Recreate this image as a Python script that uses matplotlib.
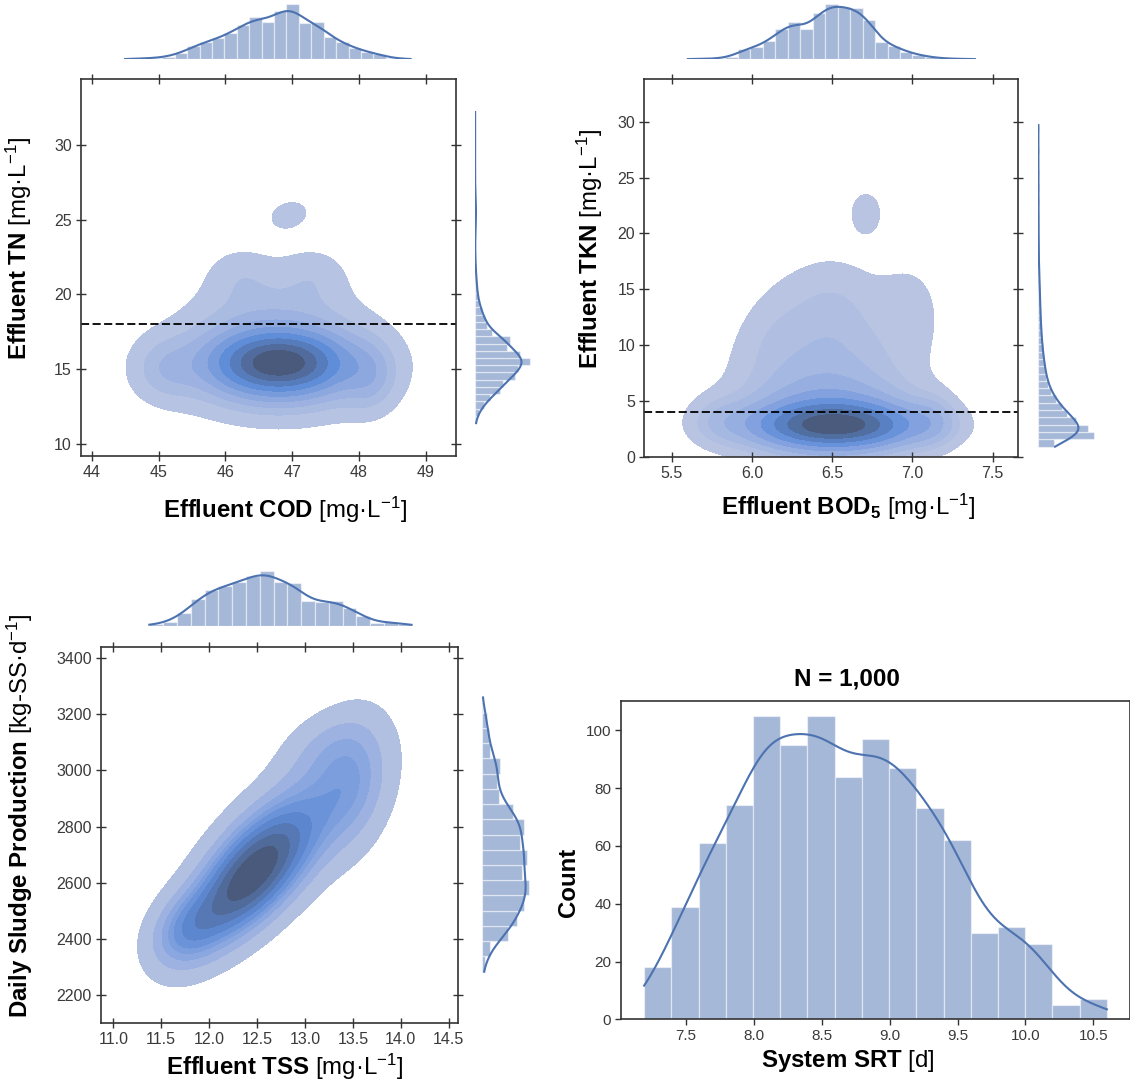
import numpy as np
import matplotlib
matplotlib.use("Agg")
import matplotlib.pyplot as plt
from matplotlib import colors as mcolors

# ------------------------------------------------------------------ data
# Panel A : Effluent COD (x) vs Effluent TN (y)
cod_bin_start, cod_bin_width = 44.50, 0.1857
cod_counts = [1, 2, 3, 6, 14, 29, 40, 47, 60, 77, 96, 85, 110, 125, 81, 84, 51, 38, 25, 17, 11, 2, 1]
tn_bin_start, tn_bin_width = 11.38, 0.4842
tn_counts = [2, 9, 22, 38, 64, 72, 102, 110, 140, 115, 81, 89, 43, 30, 25, 17, 11, 7, 6, 4,
             3, 2, 1, 1, 0, 1, 1, 2, 3, 3, 2, 1, 0, 1, 0, 0, 1, 0, 0, 1, 0, 0, 1]
# bivariate density: (x, y, sx, sy, rho, weight)
cod_tn_components = [
    (46.80, 15.4, 0.60, 1.25, 0.0, 0.35),
    (46.80, 15.2, 0.90, 2.00, 0.0, 0.40),
    (46.70, 18.3, 0.80, 2.00, 0.0, 0.10),
    (45.10, 15.0, 0.33, 1.40, 0.0, 0.035),
    (48.15, 14.5, 0.26, 1.50, 0.0, 0.035),
    (46.25, 21.2, 0.35, 1.30, 0.0, 0.02),
    (47.30, 21.2, 0.35, 1.30, 0.0, 0.02),
    (46.95, 25.3, 0.18, 0.60, 0.2, 0.007),
]
tn_limit = 18
cod_ticks = [44, 45, 46, 47, 48, 49]
tn_ticks = [10, 15, 20, 25, 30]

# Panel B : Effluent BOD5 (x) vs Effluent TKN (y)
bod_bin_start, bod_bin_width = 5.60, 0.0778
bod_counts = [1, 1, 2, 6, 23, 29, 43, 69, 87, 70, 106, 128, 120, 118, 92, 41, 31, 18, 10, 5, 2, 1, 1]
tkn_bin_start, tkn_bin_width = 0.90, 0.6545
tkn_counts = [52, 180, 162, 122, 93, 75, 56, 41, 32, 26, 23, 20, 16, 14, 12, 10, 9, 8, 7, 6, 6, 5, 3, 3, 2,
              2, 2, 1, 1, 1, 1, 1, 0, 1, 0, 1, 0, 1, 0, 0, 1, 0, 0, 1]
bod_tkn_components = [
    (6.52, 2.8, 0.32, 1.2, 0.0, 0.35),
    (6.50, 3.2, 0.33, 2.2, 0.0, 0.30),
    (6.45, 7.0, 0.32, 3.5, 0.0, 0.20),
    (6.50, 13.5, 0.20, 3.0, 0.0, 0.055),
    (6.98, 13.0, 0.15, 3.3, 0.0, 0.03),
    (6.12, 11.5, 0.15, 3.0, 0.3, 0.02),
    (5.80, 3.2, 0.13, 1.5, 0.0, 0.02),
    (7.12, 3.2, 0.10, 1.5, 0.0, 0.02),
    (6.71, 21.8, 0.065, 1.3, 0.0, 0.008),
]
tkn_limit = 4
bod_ticks = [5.5, 6.0, 6.5, 7.0, 7.5]
tkn_ticks = [0, 5, 10, 15, 20, 25, 30]

# Panel C : Effluent TSS (x) vs Daily sludge production (y)
tss_bin_start, tss_bin_width = 11.376, 0.1440
tss_counts = [4, 9, 28, 57, 77, 85, 94, 107, 117, 94, 92, 54, 51, 54, 38, 21, 6, 9, 4]
sludge_bin_start, sludge_bin_width = 2283, 54.3
sludge_counts = [8, 19, 60, 81, 98, 110, 92, 105, 89, 98, 73, 40, 35, 42, 19, 17, 12, 4]
tss_sludge_components = [
    (12.40, 2610, 0.40, 150, 0.65, 0.45),
    (12.80, 2760, 0.55, 190, 0.65, 0.33),
    (13.50, 2960, 0.25, 150, 0.20, 0.10),
    (11.75, 2430, 0.25, 90, 0.30, 0.08),
    (13.20, 3080, 0.30, 90, 0.30, 0.04),
]
tss_ticks = [11.0, 11.5, 12.0, 12.5, 13.0, 13.5, 14.0, 14.5]
sludge_ticks = [2200, 2400, 2600, 2800, 3000, 3200, 3400]

# Panel D : System SRT histogram
srt_bin_start, srt_bin_width = 7.19, 0.2006
srt_counts = [18, 39, 61, 74, 105, 95, 105, 84, 97, 87, 73, 62, 30, 32, 26, 5, 7]
srt_ticks = [7.5, 8.0, 8.5, 9.0, 9.5, 10.0, 10.5]
count_ticks = [0, 20, 40, 60, 80, 100]
n_title = "N = 1,000"

# ------------------------------------------------------------------ style
plt.rcParams.update({
    "font.family": ["Liberation Sans", "DejaVu Sans"],
    "mathtext.fontset": "custom",
    "mathtext.rm": "Liberation Sans",
    "mathtext.it": "Liberation Sans:italic",
    "mathtext.bf": "Liberation Sans:bold",
})
BLUE = "#4c72b0"
SPINE = "#333333"
TICKC = "#3a3a3a"
LABEL_FS = 17.3
TICK_FS = 11.5

W, H = 1130, 1083
fig = plt.figure(figsize=(W / 100, H / 100), dpi=100)


def rect(x0, y0, x1, y1):
    return [x0 / W, 1 - y1 / H, (x1 - x0) / W, (y1 - y0) / H]


def seaborn_cmap(color):
    try:
        from seaborn.external import husl
        r, g, b = mcolors.to_rgb(color)
        h, s, _ = husl.rgb_to_husl(r, g, b)
        xx = np.linspace(-1, 1, int(1.15 * 256))[:256]
        ramp = np.zeros((256, 3))
        ramp[:, 0] = h
        ramp[:, 1] = s * np.cos(xx)
        ramp[:, 2] = np.linspace(35, 80, 256)
        cols = np.clip([husl.husl_to_rgb(*hsl) for hsl in ramp], 0, 1)
        return mcolors.ListedColormap(cols[::-1])
    except Exception:
        return mcolors.LinearSegmentedColormap.from_list(
            "b", ["#b4c2e6", "#5b86d6", "#4a5a86"])


CMAP = seaborn_cmap(BLUE)


def mixture(X, Y, comps):
    Z = np.zeros_like(X)
    for mx, my, sx, sy, rho, w in comps:
        dx = (X - mx) / sx
        dy = (Y - my) / sy
        q = (dx ** 2 - 2 * rho * dx * dy + dy ** 2) / (1 - rho ** 2)
        Z += w * np.exp(-q / 2) / (2 * np.pi * sx * sy * np.sqrt(1 - rho ** 2))
    return Z


def iso_levels(dens, thresh=0.05, n=10):
    q = np.linspace(thresh, 1, n)
    vals = np.sort(dens.ravel())[::-1]
    cum = np.cumsum(vals) / vals.sum()
    idx = np.searchsorted(cum, 1 - q)
    return np.take(vals, idx, mode="clip")


def hist_kde(start, width, counts, npts=300):
    counts = np.asarray(counts, float)
    edges = start + width * np.arange(len(counts) + 1)
    centers = 0.5 * (edges[:-1] + edges[1:])
    n = counts.sum()
    mean = (centers * counts).sum() / n
    var = ((centers - mean) ** 2 * counts).sum() / (n - 1)
    bw = np.sqrt(var) * n ** (-1 / 5)
    grid = np.linspace(edges[0], edges[-1], npts)
    dens = (counts[None, :] * np.exp(-0.5 * ((grid[:, None] - centers[None, :]) / bw) ** 2)).sum(1)
    dens /= n * bw * np.sqrt(2 * np.pi)
    return edges, centers, grid, dens * n * width


def style_joint(ax, xticks, yticks, xfmt, yfmt):
    for s in ax.spines.values():
        s.set_color(SPINE)
        s.set_linewidth(1.2)
    ax.set_xticks(xticks)
    ax.set_yticks(yticks)
    ax.set_xticklabels([xfmt.format(v) for v in xticks])
    ax.set_yticklabels([yfmt.format(v) for v in yticks])
    ax.tick_params(which="both", direction="inout", length=7, width=1, color=SPINE,
                   top=True, right=True, labeltop=False, labelright=False,
                   labelsize=TICK_FS, labelcolor=TICKC, pad=3)


def joint_panel(rj, rt, rr, xlim, ylim, grid_x, grid_y, comps, xh, yh,
                xticks, yticks, xfmt, yfmt, xlabel, ylabel, xl_pos, yl_pos, hline=None):
    axj = fig.add_axes(rect(*rj))
    X, Y = np.meshgrid(np.linspace(*grid_x, 300), np.linspace(*grid_y, 300))
    Z = mixture(X, Y, comps)
    levels = iso_levels(Z)
    axj.contourf(X, Y, Z, levels=levels, cmap=CMAP)
    if hline is not None:
        axj.axhline(hline, color="black", lw=1.3, ls=(0, (4.5, 1.9)))
    axj.set_xlim(*xlim)
    axj.set_ylim(*ylim)
    style_joint(axj, xticks, yticks, xfmt, yfmt)
    axj.set_xlabel(xlabel, fontsize=LABEL_FS, color="black")
    axj.set_ylabel(ylabel, fontsize=LABEL_FS, color="black")
    axj.xaxis.label.set_va("center")
    axj.yaxis.label.set_va("center")
    axj.xaxis.set_label_coords(*xl_pos)
    axj.yaxis.set_label_coords(*yl_pos)

    # top marginal
    axt = fig.add_axes(rect(*rt))
    edges, centers, g, k = hist_kde(*xh)
    axt.bar(centers, xh[2], width=xh[1], color=BLUE, alpha=0.5, edgecolor="white", linewidth=0.9)
    axt.plot(g, k, color=BLUE, lw=1.5)
    axt.set_xlim(*xlim)
    axt.set_ylim(0, max(xh[2]) * 1.05)
    axt.set_axis_off()

    # right marginal
    axr = fig.add_axes(rect(*rr))
    edges, centers, g, k = hist_kde(*yh)
    axr.barh(centers, yh[2], height=yh[1], color=BLUE, alpha=0.5, edgecolor="white", linewidth=0.9)
    axr.plot(k, g, color=BLUE, lw=1.5)
    axr.set_ylim(*ylim)
    axr.set_xlim(0, max(yh[2]) * 1.05)
    axr.set_axis_off()
    return axj


# Panel A
joint_panel((81, 79.3, 456, 456), (81, 1.2, 456, 59.3), (475, 79.3, 532.8, 456),
            (43.84, 49.45), (9.18, 34.39), (42.0, 51.0), (3, 38), cod_tn_components,
            (cod_bin_start, cod_bin_width, cod_counts), (tn_bin_start, tn_bin_width, tn_counts),
            cod_ticks, tn_ticks, "{:g}", "{:g}",
            r"$\mathbf{Effluent\ COD}$ [mg·L$^{-1}$]", r"$\mathbf{Effluent\ TN}$ [mg·L$^{-1}$]",
            (0.544, -0.143), (-0.1645, 0.552), hline=tn_limit)

# Panel B
joint_panel((644.3, 79.3, 1018.3, 456.7), (644.3, 1.2, 1018.3, 59.3), (1038.3, 79.3, 1096.8, 456.7),
            (5.329, 7.66), (0, 33.8), (4.6, 8.4), (-9, 40), bod_tkn_components,
            (bod_bin_start, bod_bin_width, bod_counts), (tkn_bin_start, tkn_bin_width, tkn_counts),
            bod_ticks, tkn_ticks, "{:.1f}", "{:g}",
            r"$\mathbf{Effluent\ BOD_5}$ [mg·L$^{-1}$]", r"$\mathbf{Effluent\ TKN}$ [mg·L$^{-1}$]",
            (0.546, -0.133), (-0.1465, 0.551), hline=tkn_limit)

# Panel C
joint_panel((101, 647.3, 458.3, 1023.3), (101, 568.3, 458.3, 626), (481.7, 647.3, 531.7, 1023.3),
            (10.872, 14.60), (2099, 3439), (10.0, 15.5), (1800, 3700), tss_sludge_components,
            (tss_bin_start, tss_bin_width, tss_counts), (sludge_bin_start, sludge_bin_width, sludge_counts),
            tss_ticks, sludge_ticks, "{:.1f}", "{:g}",
            r"$\mathbf{Effluent\ TSS}$ [mg·L$^{-1}$]", r"$\mathbf{Daily\ Sludge\ Production}$ [kg-SS·d$^{-1}$]",
            (0.515, -0.116), (-0.226, 0.553))

# Panel D
axh = fig.add_axes(rect(621, 700.7, 1130, 1019.3))
edges, centers, g, k = hist_kde(srt_bin_start, srt_bin_width, srt_counts)
axh.bar(centers, srt_counts, width=srt_bin_width, color=BLUE, alpha=0.5, edgecolor="white", linewidth=0.9)
axh.plot(g, k, color=BLUE, lw=1.5)
axh.set_xlim(edges[0] - 0.05 * (edges[-1] - edges[0]), edges[-1] + 0.05 * (edges[-1] - edges[0]))
axh.set_ylim(0, max(srt_counts) * 1.05)
axh.set_xticks(srt_ticks)
axh.set_xticklabels(["{:.1f}".format(v) for v in srt_ticks])
axh.set_yticks(count_ticks)
for s in axh.spines.values():
    s.set_color(SPINE)
    s.set_linewidth(1.2)
axh.tick_params(direction="out", length=4, width=1, color=SPINE, labelsize=11,
                labelcolor=TICKC, pad=3)
axh.set_xlabel(r"$\mathbf{System\ SRT}$ [d]", fontsize=LABEL_FS)
axh.set_ylabel("Count", fontsize=LABEL_FS, fontweight="bold")
axh.xaxis.label.set_va("center")
axh.yaxis.label.set_va("center")
axh.xaxis.set_label_coords(0.445, -0.131)
axh.yaxis.set_label_coords(-0.104, 0.431)
axh.text(0.444, 1.068, n_title, transform=axh.transAxes, ha="center", va="center",
         fontsize=17.5, fontweight="bold")

fig.savefig("out.png", dpi=100)
